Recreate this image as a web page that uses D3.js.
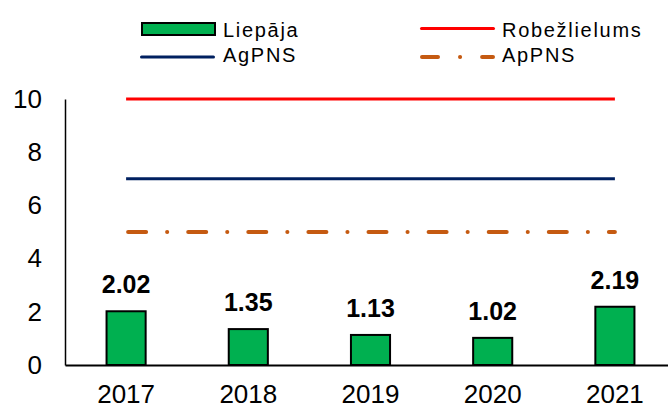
<!DOCTYPE html>
<html>
<head>
<meta charset="utf-8">
<script src="https://cdn.jsdelivr.net/npm/d3@7"></script>
<style>
html,body{margin:0;padding:0;background:#fff;}
svg{display:block;font-family:"Liberation Sans",Arial,sans-serif;}
</style>
</head>
<body>
<svg id="chart" width="668" height="410"></svg>
<script>
const years = ["2017","2018","2019","2020","2021"];
const liepaja = [2.02, 1.35, 1.13, 1.02, 2.19];
const robezlielums = [10, 10, 10, 10, 10];
const agpns = [7, 7, 7, 7, 7];
const appns = [5, 5, 5, 5, 5];
const yTicks = [0, 2, 4, 6, 8, 10];

const svg = d3.select("#chart");
const x = d3.scaleBand().domain(years).range([65, 676]).paddingInner(0.68).paddingOuter(0.34);
const y = d3.scaleLinear().domain([0, 10]).range([365, 99]);

// y axis
const yAxis = svg.append("g").attr("transform", "translate(65,0)")
  .call(d3.axisLeft(y).tickValues(yTicks).tickSize(0).tickPadding(23));
yAxis.select(".domain").attr("stroke", "#000").attr("stroke-width", 1.5);
yAxis.selectAll("text").attr("font-size", 26).attr("fill", "#000")
  .attr("font-family", "Liberation Sans, Arial, sans-serif");

// bars
svg.append("g").selectAll("rect").data(years).join("rect")
  .attr("x", d => x(d))
  .attr("y", (d, i) => y(liepaja[i]))
  .attr("width", x.bandwidth())
  .attr("height", (d, i) => y(0) - y(liepaja[i]))
  .attr("fill", "#00B050").attr("stroke", "#000").attr("stroke-width", 2);

// labels
svg.append("g").selectAll("text").data(years).join("text")
  .attr("x", d => x(d) + x.bandwidth() / 2)
  .attr("y", (d, i) => y(liepaja[i]) - 18)
  .attr("text-anchor", "middle")
  .attr("font-size", 25).attr("font-weight", "bold").attr("fill", "#000")
  .text((d, i) => liepaja[i].toFixed(2));

// x axis
const xAxis = svg.append("g").attr("transform", "translate(0,365)")
  .call(d3.axisBottom(x).tickSize(0).tickPadding(20).tickSizeOuter(0));
xAxis.select(".domain").attr("stroke", "#000").attr("stroke-width", 2);
xAxis.selectAll("text").attr("font-size", 26).attr("fill", "#000")
  .attr("font-family", "Liberation Sans, Arial, sans-serif");

// lines
const cx = d => x(d) + x.bandwidth() / 2;
const lineGen = vals => d3.line().x(d => cx(d)).y((d, i) => y(vals[i]))(years);
svg.append("path").attr("d", lineGen(robezlielums)).attr("fill", "none")
  .attr("stroke", "#FF0000").attr("stroke-width", 3);
svg.append("path").attr("d", lineGen(agpns)).attr("fill", "none")
  .attr("stroke", "#002060").attr("stroke-width", 3);
svg.append("path").attr("d", lineGen(appns)).attr("fill", "none")
  .attr("stroke", "#C55A11").attr("stroke-width", 4).attr("stroke-linecap", "round")
  .attr("stroke-dasharray", "18,21,0.1,21").attr("stroke-dashoffset", -2);

// legend
const lg = svg.append("g").attr("font-size", 20).attr("fill", "#000").attr("letter-spacing", 1.7);
lg.append("rect").attr("x", 142).attr("y", 23).attr("width", 73).attr("height", 12)
  .attr("fill", "#00B050").attr("stroke", "#000").attr("stroke-width", 2);
lg.append("text").attr("x", 223).attr("y", 37).text("Liepāja");
lg.append("line").attr("x1", 141.5).attr("x2", 213.5).attr("y1", 57).attr("y2", 57)
  .attr("stroke", "#002060").attr("stroke-width", 3).attr("stroke-linecap", "round");
lg.append("text").attr("x", 223).attr("y", 62).text("AgPNS");
lg.append("line").attr("x1", 421.5).attr("x2", 493.5).attr("y1", 28.5).attr("y2", 28.5)
  .attr("stroke", "#FF0000").attr("stroke-width", 3).attr("stroke-linecap", "round");
lg.append("text").attr("x", 502).attr("y", 37).text("Robežlielums");
lg.append("line").attr("x1", 422).attr("x2", 493).attr("y1", 57).attr("y2", 57)
  .attr("stroke", "#C55A11").attr("stroke-width", 4).attr("stroke-linecap", "round")
  .attr("stroke-dasharray", "16,22,0.1,22");
lg.append("text").attr("x", 502).attr("y", 62).text("ApPNS");
</script>
</body>
</html>
